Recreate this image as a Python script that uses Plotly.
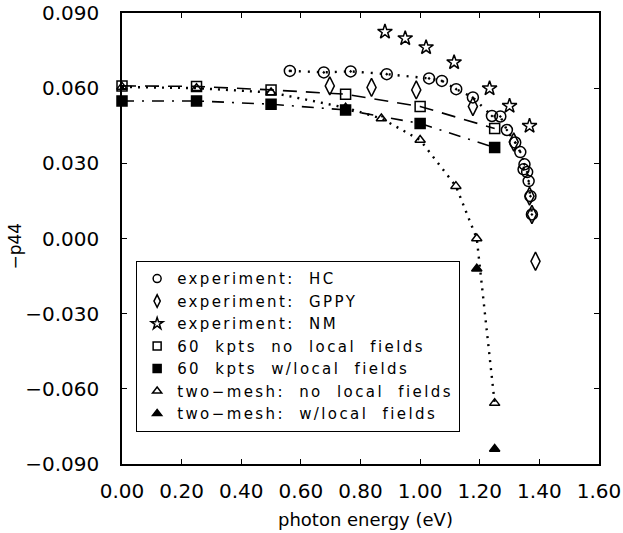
import plotly.graph_objects as go

# ---- data ----
hc_x = [0.563, 0.677, 0.767, 0.888, 1.030, 1.073, 1.121, 1.177, 1.241, 1.269, 1.291, 1.319, 1.336, 1.350, 1.347, 1.359, 1.364, 1.370, 1.375]
hc_y = [0.0669, 0.0663, 0.0667, 0.0656, 0.0639, 0.0629, 0.0596, 0.0563, 0.0489, 0.0487, 0.0433, 0.0383, 0.0345, 0.0296, 0.0276, 0.0265, 0.0229, 0.0169, 0.0096]

gppy_x = [0.697, 0.837, 0.987, 1.177, 1.314, 1.367, 1.375, 1.387]
gppy_y = [0.0609, 0.0603, 0.0593, 0.0527, 0.0385, 0.0169, 0.0096, -0.0091]

nm_x = [0.882, 0.950, 1.020, 1.114, 1.233, 1.300, 1.367]
nm_y = [0.0825, 0.0799, 0.0763, 0.0703, 0.0599, 0.0529, 0.0449]

k60_x = [0.0, 0.25, 0.50, 0.75, 1.00, 1.25]
k60_nolf_y = [0.0609, 0.0607, 0.0593, 0.0576, 0.0527, 0.0439]
k60_lf_y = [0.0549, 0.0549, 0.0536, 0.0513, 0.0459, 0.0363]

tm_x = [0.0, 0.25, 0.50, 0.75, 0.87, 1.00, 1.12, 1.19, 1.25]
tm_nolf_y = [0.0605, 0.0600, 0.0583, 0.0522, 0.0479, 0.0393, 0.0209, 0.0000, -0.0657]

tmlf_x = [1.19, 1.25]
tmlf_y = [-0.0121, -0.0840]

x_ticks = [0.0, 0.2, 0.4, 0.6, 0.8, 1.0, 1.2, 1.4, 1.6]
y_ticks = [-0.09, -0.06, -0.03, 0.0, 0.03, 0.06, 0.09]

labels = [
    "experiment:  HC",
    "experiment:  GPPY",
    "experiment:  NM",
    "60  kpts  no  local  fields",
    "60  kpts  w/local  fields",
    "two\u2212mesh:  no  local  fields",
    "two\u2212mesh:  w/local  fields",
]
x_title = "photon energy (eV)"
y_title = "\u2212p44"

FONT = "DejaVu Sans"
fig = go.Figure()

def add(x, y, mode, symbol, size, dash=None, lw=1.6):
    line = dict(color="black", width=lw, dash=dash) if dash else None
    fig.add_trace(go.Scatter(
        x=x, y=y, mode=mode, showlegend=False, cliponaxis=False,
        line=line, hoverinfo="skip",
        marker=dict(symbol=symbol, size=size, color="black",
                    line=dict(color="black", width=1.5)),
    ))

# lines + markers
add(k60_x, k60_nolf_y, "lines+markers", "square-open", 10, dash="14px,9px")
add(k60_x, k60_lf_y, "lines+markers", "square", 10, dash="12px,8px,2px,8px")
add(tm_x, tm_nolf_y, "lines+markers", "triangle-up-open", 9, dash="2px,6px", lw=2.4)
add(tmlf_x, tmlf_y, "markers", "triangle-up", 9)
add(hc_x, hc_y, "lines+markers", "circle-open-dot", 11, dash="2px,7px", lw=2.4)
add(gppy_x, gppy_y, "markers", "diamond-tall-open", 13)
add(nm_x, nm_y, "markers", "star-open", 11)

# legend-only entries (markers only, like the reference)
leg_syms = ["circle-open", "diamond-tall-open", "star-open", "square-open",
            "square", "triangle-up-open", "triangle-up"]
leg_sizes = [8, 9, 9, 8, 8, 8, 8]
for lab, s, sz in zip(labels, leg_syms, leg_sizes):
    fig.add_trace(go.Scatter(
        x=[None], y=[None], mode="markers",
        name='<span style="letter-spacing:2.4px">' + lab + "</span>",
        marker=dict(symbol=s, size=sz, color="black",
                    line=dict(color="black", width=1.5)),
    ))

axis_common = dict(
    showgrid=False, zeroline=False, showline=True, linecolor="black",
    linewidth=1.5, mirror="ticks", ticks="inside", ticklen=5,
    tickwidth=1.3, tickcolor="black", automargin=False,
    ticklabeloverflow="allow",
    tickfont=dict(family=FONT, size=20, color="black"),
)

fig.update_xaxes(range=[0, 1.6], tickvals=x_ticks, tickformat=".2f",
                 ticklabelstandoff=8, **axis_common)
fig.update_yaxes(range=[-0.09, 0.09], tickvals=y_ticks, tickformat=".3f",
                 ticklabelstandoff=17, **axis_common)

fig.add_annotation(text=x_title, xref="paper", yref="paper", x=0.51, y=-0.122,
                   xanchor="center", yanchor="middle", showarrow=False,
                   font=dict(family=FONT, size=18, color="black"))
fig.add_annotation(text=y_title, xref="paper", yref="paper", x=-0.2246, y=0.484,
                   xanchor="center", yanchor="middle", showarrow=False,
                   textangle=-90,
                   font=dict(family=FONT, size=17, color="black"))

fig.update_layout(
    width=623, height=533,
    margin=dict(l=122, r=24, t=13, b=69, autoexpand=False),
    paper_bgcolor="white", plot_bgcolor="white",
    font=dict(family=FONT, size=18, color="black"),
    hovermode=False,
    legend=dict(x=0.029, y=0.45, xanchor="left", yanchor="top",
                bordercolor="black", borderwidth=1.3, bgcolor="white",
                font=dict(family=FONT, size=15, color="black"),
                itemwidth=30, tracegroupgap=0),
)

fig.write_html("out.html", config={"displayModeBar": False},
               post_script="document.body.style.margin='0';document.body.style.overflow='hidden';")
